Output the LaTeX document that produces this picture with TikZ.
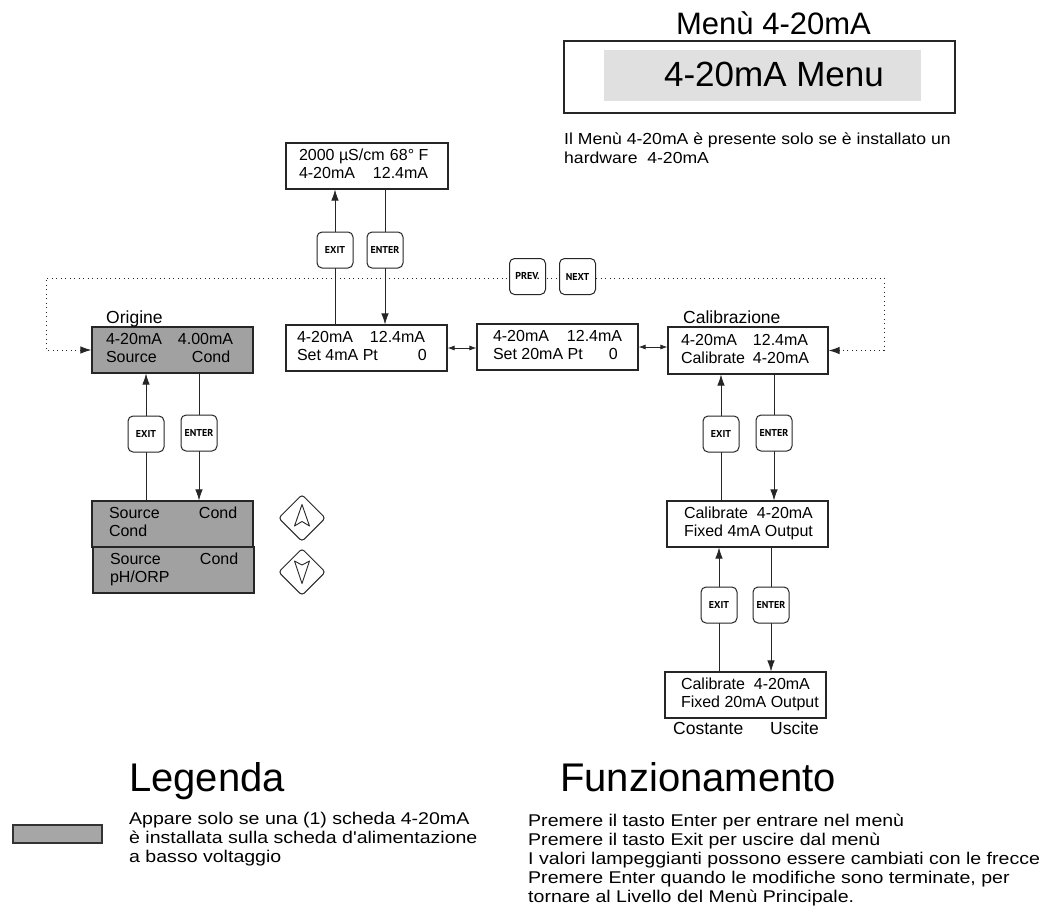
\documentclass[tikz,border=0pt]{standalone}
\usepackage{fontspec}
\setmainfont{Liberation Sans}
\newfontfamily\widefont[FakeStretch=1.15]{Liberation Sans}
\newfontfamily\notefont[FakeStretch=1.1]{Liberation Sans}
\newfontfamily\keyfont{PT Sans}
\usetikzlibrary{arrows.meta,shapes.geometric}
\pgfdeclarelayer{bg}
\pgfsetlayers{bg,main}
\newcommand{\lcdtxt}[3]{\makebox[#1pt][l]{\hspace*{#2pt}\raisebox{-2pt}{\begin{tabular}{@{}l@{}}#3\end{tabular}}}}
\newcommand{\colx}[2]{\makebox[#1pt][l]{#2}}
\begin{document}
\begin{tikzpicture}[x=1pt,y=-1pt,
  lcd/.style={draw=black!85, line width=1.1pt, inner sep=0pt, minimum height=46pt, fill=white,
    font=\fontsize{16}{18}\selectfont},
  shaded/.style={lcd, fill=black!37},
  key/.style={draw=black!85, line width=1pt, rounded corners=5pt, fill=white, minimum size=36pt,
    inner sep=0pt, font=\keyfont\bfseries\fontsize{10}{11}\selectfont},
  conn/.style={draw=black!85, line width=0.8pt},
  arr/.style={conn, -{Latex[length=11pt,width=7.5pt]}},
  darr/.style={conn, {Latex[length=7pt,width=5pt]}-{Latex[length=7pt,width=5pt]}},
  dotline/.style={draw=black!85, line width=1pt, dash pattern=on 1pt off 3.5pt,
    {Latex[length=11pt,width=7.5pt]}-{Latex[length=11pt,width=7.5pt]}},
  lbl/.style={inner sep=0pt, anchor=base west, font=\fontsize{17.5}{19}\selectfont},
  big/.style={inner sep=0pt, anchor=base west, font=\fontsize{40}{44}\selectfont},
  para/.style={inner sep=0pt, anchor=base west},
  arrowkey/.style={diamond, aspect=1, draw=black!85, line width=1pt, rounded corners=3pt,
    minimum width=47pt, minimum height=47pt, inner sep=0pt},
  glyph/.style={draw=black!85, line width=0.9pt, line join=round}
]
\useasboundingbox (0,0) rectangle (1046,918);
\begin{pgfonlayer}{bg}
\fill[white] (0,0) rectangle (1046,918);
\end{pgfonlayer}

% header
\node[inner sep=0pt, anchor=base, font=\fontsize{31}{34}\selectfont] (title) at (773.5,34) {Menù 4-20mA};
\node[draw=black!85, line width=1.1pt, minimum width=391pt, minimum height=72pt, inner sep=0pt] (menuframe) at (759.5,77) {};
\node[fill=black!12, minimum width=317pt, minimum height=51pt, inner sep=0pt] (menu) at (762.5,75.5) {};
\node[inner sep=0pt, anchor=base, font=\fontsize{35}{38}\selectfont] (menutxt) at (774,86) {4-20mA Menu};
\node[para, font=\notefont\fontsize{16}{19}\selectfont] (note) at (564,144)
  {\begin{tabular}[t]{@{}l@{}}Il Menù 4-20mA è presente solo se è installato un\\ hardware\ \ 4-20mA\end{tabular}};

% displays
\node[lcd, minimum width=162pt] (top) at (367,166)
  {\lcdtxt{162}{13}{\colx{91}{2000 µS/cm}68° F\\ \colx{74}{4-20mA}12.4mA}};
\node[lcd, minimum width=161pt] (b4) at (366.5,348)
  {\lcdtxt{161}{11}{\colx{73}{4-20mA}12.4mA\\ \colx{121}{Set 4mA Pt}0}};
\node[lcd, minimum width=161pt] (b20) at (557.5,347)
  {\lcdtxt{161}{16}{\colx{74}{4-20mA}12.4mA\\ \colx{116}{Set 20mA Pt}0}};
\node[lcd, minimum width=160pt, minimum height=47pt] (cal) at (748,350.5)
  {\lcdtxt{160}{13}{\colx{72}{4-20mA}12.4mA\\ \colx{72}{Calibrate}4-20mA}};
\node[shaded, minimum width=161pt] (orig) at (172.5,350)
  {\lcdtxt{161}{14}{\colx{72}{4-20mA}4.00mA\\ \colx{86}{Source}Cond}};
\node[shaded, minimum width=161pt] (src1) at (172.5,524)
  {\lcdtxt{161}{17}{\colx{90}{Source}Cond\\ Cond}};
\node[shaded, minimum width=161pt] (src2) at (173.5,570)
  {\lcdtxt{161}{17}{\colx{90}{Source}Cond\\ pH/ORP}};
\node[lcd, minimum width=161pt] (fix4) at (747.5,524)
  {\lcdtxt{161}{17}{Calibrate\ \ 4-20mA\\ Fixed 4mA Output}};
\node[lcd, minimum width=161pt] (fix20) at (745.5,695)
  {\lcdtxt{161}{16}{Calibrate\ \ 4-20mA\\ Fixed 20mA Output}};

% labels
\node[lbl] (lorig) at (106,323) {Origine};
\node[lbl] (lcal) at (683,323) {Calibrazione};
\node[lbl] (lcost) at (673,734) {Costante};
\node[lbl] (lusc) at (770,734) {Uscite};

% keys
\node[key] (exit1) at (335,250) {EXIT};
\node[key] (enter1) at (385,250) {ENTER};
\node[key] (prev) at (527.5,276.5) {PREV.};
\node[key] (next) at (577.5,276.5) {NEXT};
\node[key] (exit2) at (146,434) {EXIT};
\node[key] (enter2) at (199,433) {ENTER};
\node[key] (exit3) at (721,434) {EXIT};
\node[key] (enter3) at (774,433) {ENTER};
\node[key] (exit4) at (719,605) {EXIT};
\node[key] (enter4) at (771,605) {ENTER};

% arrow keys
\node[arrowkey] (up) at (302,518) {};
\node[arrowkey] (down) at (302,572) {};
\draw[glyph, shift={(up.center)}] (0,-13.5) -- (-7.5,8) -- (0,3.5) -- (7.5,8) -- cycle;
\draw[glyph, shift={(down.center)}] (0,11.5) -- (-7.5,-11) -- (0,-7) -- (7.5,-11) -- cycle;

% connectors
\coordinate (dl) at (46,278);
\coordinate (dr) at (884,278);
\begin{pgfonlayer}{bg}
\draw[dotline] (orig.west) -| (dl) -- (dr) |- (cal.east);
\draw[arr] (b4.north -| exit1) -- (top.south -| exit1);
\draw[arr] (top.south -| enter1) -- (b4.north -| enter1);
\draw[arr] (src1.north -| exit2) -- (orig.south -| exit2);
\draw[arr] (orig.south -| enter2) -- (src1.north -| enter2);
\draw[arr] (fix4.north -| exit3) -- (cal.south -| exit3);
\draw[arr] (cal.south -| enter3) -- (fix4.north -| enter3);
\draw[arr] (fix20.north -| exit4) -- (fix4.south -| exit4);
\draw[arr] (fix4.south -| enter4) -- (fix20.north -| enter4);
\end{pgfonlayer}
\draw[darr] (b4.east) -- (b4.east -| b20.west);
\draw[darr] (b20.east) -- (b20.east -| cal.west);

% legend
\node[draw=black!80, line width=2pt, fill=black!35, minimum width=89pt, minimum height=18pt, inner sep=0pt] (legbox) at (57.5,834) {};
\node[big] (legtitle) at (129,791) {Legenda};
\node[para, font=\widefont\fontsize{17}{19}\selectfont] (legtxt) at (129,824)
  {\begin{tabular}[t]{@{}l@{}}Appare solo se una (1) scheda 4-20mA\\ è installata sulla scheda d'alimentazione\\ a basso voltaggio\end{tabular}};
\node[big] (funtitle) at (560,791) {Funzionamento};
\node[para, font=\widefont\fontsize{17}{19}\selectfont] (funtxt) at (528,826)
  {\begin{tabular}[t]{@{}l@{}}Premere il tasto Enter per entrare nel menù\\ Premere il tasto Exit per uscire dal menù\\ I valori lampeggianti possono essere cambiati con le frecce\\ Premere Enter quando le modifiche sono terminate, per\\ tornare al Livello del Menù Principale.\end{tabular}};
\end{tikzpicture}
\end{document}
